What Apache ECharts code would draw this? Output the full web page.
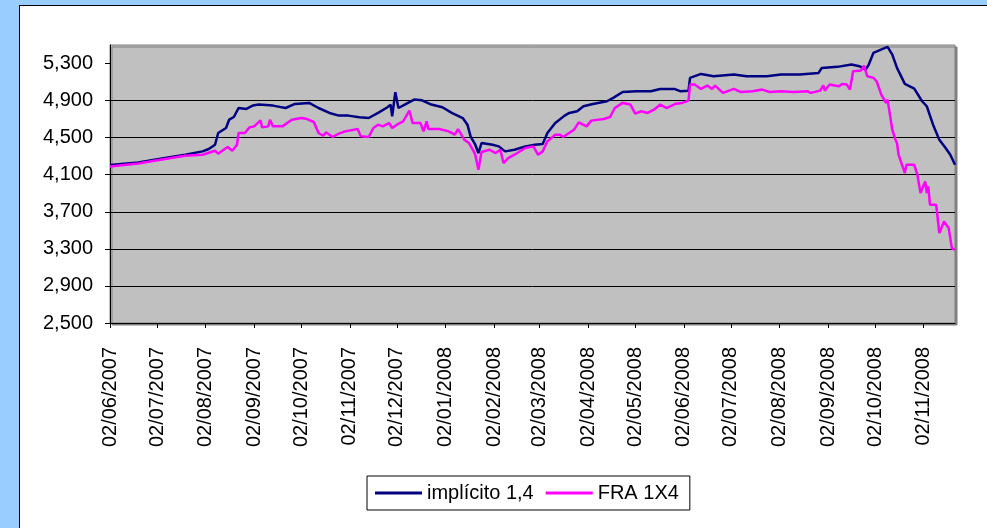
<!DOCTYPE html>
<html>
<head>
<meta charset="utf-8">
<script src="https://cdn.jsdelivr.net/npm/echarts@6/dist/echarts.min.js"></script>
<style>
  html, body { margin: 0; padding: 0; width: 987px; height: 528px; overflow: hidden; background: #99CCFF; }
  #frame { position: absolute; left: 19px; top: 5px; width: 2000px; height: 2000px; background: #fff; border: 1px solid #000; }
  #main { position: absolute; left: 0; top: 0; width: 987px; height: 528px; }
</style>
</head>
<body>
<div id="frame"></div>
<div id="main"></div>
<script>
var tickLabels = ['02/06/2007', '02/07/2007', '02/08/2007', '02/09/2007', '02/10/2007', '02/11/2007',
    '02/12/2007', '02/01/2008', '02/02/2008', '02/03/2008', '02/04/2008', '02/05/2008',
    '02/06/2008', '02/07/2008', '02/08/2008', '02/09/2008', '02/10/2008', '02/11/2008'];
var yTicks = [2500, 2900, 3300, 3700, 4100, 4500, 4900, 5300];

// implícito 1,4
var implDates = ['2007-06-02', '2007-06-20', '2007-07-07', '2007-07-20', '2007-07-31', '2007-08-04',
    '2007-08-08', '2007-08-10', '2007-08-15', '2007-08-17', '2007-08-20', '2007-08-23', '2007-08-28',
    '2007-09-01', '2007-09-05', '2007-09-14', '2007-09-22', '2007-09-28', '2007-10-07', '2007-10-13',
    '2007-10-20', '2007-10-26', '2007-11-01', '2007-11-08', '2007-11-14', '2007-11-20', '2007-11-26',
    '2007-11-28', '2007-11-29', '2007-12-01', '2007-12-03', '2007-12-07', '2007-12-13', '2007-12-18',
    '2007-12-24', '2007-12-31', '2008-01-06', '2008-01-13', '2008-01-16', '2008-01-18', '2008-01-21',
    '2008-01-23', '2008-01-25', '2008-02-01', '2008-02-05', '2008-02-09', '2008-02-15', '2008-02-22',
    '2008-02-28', '2008-03-04', '2008-03-07', '2008-03-12', '2008-03-18', '2008-03-21', '2008-03-26',
    '2008-03-30', '2008-04-05', '2008-04-14', '2008-04-18', '2008-04-24', '2008-05-03', '2008-05-12',
    '2008-05-18', '2008-05-27', '2008-05-31', '2008-06-05', '2008-06-06', '2008-06-13', '2008-06-21',
    '2008-07-04', '2008-07-12', '2008-07-25', '2008-08-03', '2008-08-15', '2008-08-27', '2008-08-29',
    '2008-09-08', '2008-09-17', '2008-09-22', '2008-09-26', '2008-09-28', '2008-10-01', '2008-10-05',
    '2008-10-10', '2008-10-13', '2008-10-16', '2008-10-21', '2008-10-27', '2008-11-01', '2008-11-04',
    '2008-11-08', '2008-11-12', '2008-11-16', '2008-11-19', '2008-11-22'];
var implValues = [4205, 4233, 4280, 4316, 4352, 4378,
    4424, 4550, 4604, 4694, 4723, 4820, 4810,
    4846, 4857, 4846, 4820, 4864, 4875, 4820,
    4767, 4738, 4738, 4720, 4712, 4767, 4828,
    4857, 4731, 4990, 4820, 4857, 4911, 4903,
    4857, 4828, 4767, 4712, 4640, 4514, 4424,
    4334, 4442, 4424, 4406, 4352, 4370, 4406,
    4424, 4431, 4550, 4658, 4738, 4767, 4785,
    4839, 4864, 4893, 4929, 4993, 5000, 5000,
    5026, 5026, 5000, 5007, 5145, 5188, 5163,
    5181, 5163, 5163, 5181, 5181, 5199, 5253,
    5264, 5289, 5271, 5235, 5289, 5416, 5444,
    5480, 5397, 5253, 5080, 5030, 4893, 4839,
    4640, 4478, 4388, 4316, 4208];

// FRA 1X4
var fraDates = ['2007-06-02', '2007-06-20', '2007-07-07', '2007-07-20', '2007-07-31', '2007-08-08',
    '2007-08-10', '2007-08-16', '2007-08-19', '2007-08-22', '2007-08-23', '2007-08-27', '2007-08-30',
    '2007-09-02', '2007-09-06', '2007-09-07', '2007-09-11', '2007-09-12', '2007-09-14', '2007-09-20',
    '2007-09-26', '2007-10-02', '2007-10-05', '2007-10-10', '2007-10-13', '2007-10-16', '2007-10-18',
    '2007-10-22', '2007-10-26', '2007-10-30', '2007-11-07', '2007-11-09', '2007-11-14', '2007-11-17',
    '2007-11-20', '2007-11-23', '2007-11-27', '2007-11-29', '2007-12-02', '2007-12-06', '2007-12-10',
    '2007-12-12', '2007-12-17', '2007-12-19', '2007-12-21', '2007-12-22', '2007-12-29', '2008-01-04',
    '2008-01-08', '2008-01-10', '2008-01-14', '2008-01-17', '2008-01-20', '2008-01-21', '2008-01-23',
    '2008-01-25', '2008-01-30', '2008-02-03', '2008-02-06', '2008-02-08', '2008-02-11', '2008-02-15',
    '2008-02-22', '2008-02-27', '2008-03-01', '2008-03-04', '2008-03-07', '2008-03-12', '2008-03-15',
    '2008-03-17', '2008-03-24', '2008-03-27', '2008-04-01', '2008-04-04', '2008-04-12', '2008-04-16',
    '2008-04-19', '2008-04-24', '2008-04-29', '2008-05-02', '2008-05-06', '2008-05-10', '2008-05-14',
    '2008-05-18', '2008-05-22', '2008-05-28', '2008-06-01', '2008-06-05', '2008-06-06', '2008-06-09',
    '2008-06-13', '2008-06-17', '2008-06-20', '2008-06-22', '2008-06-27', '2008-07-04', '2008-07-08',
    '2008-07-16', '2008-07-22', '2008-07-27', '2008-08-03', '2008-08-11', '2008-08-20', '2008-08-22',
    '2008-08-28', '2008-08-30', '2008-08-31', '2008-09-03', '2008-09-09', '2008-09-11', '2008-09-14',
    '2008-09-16', '2008-09-18', '2008-09-23', '2008-09-25', '2008-09-27', '2008-10-01', '2008-10-03',
    '2008-10-06', '2008-10-09', '2008-10-10', '2008-10-13', '2008-10-15', '2008-10-16', '2008-10-17',
    '2008-10-21', '2008-10-22', '2008-10-27', '2008-10-29', '2008-10-31', '2008-11-03', '2008-11-04',
    '2008-11-05', '2008-11-06', '2008-11-10', '2008-11-12', '2008-11-15', '2008-11-18', '2008-11-20',
    '2008-11-22'];
var fraValues = [4190, 4222, 4270, 4305, 4316, 4359,
    4327, 4399, 4359, 4424, 4550, 4550, 4611,
    4622, 4687, 4611, 4622, 4694, 4622, 4622,
    4694, 4712, 4705, 4669, 4550, 4521, 4557,
    4507, 4543, 4568, 4593, 4514, 4507, 4604,
    4640, 4622, 4658, 4604, 4640, 4676, 4792,
    4658, 4658, 4568, 4676, 4593, 4593, 4568,
    4532, 4593, 4478, 4442, 4352, 4316, 4154,
    4345, 4370, 4334, 4370, 4226, 4280, 4316,
    4388, 4406, 4316, 4352, 4460, 4532, 4532,
    4507, 4586, 4665, 4622, 4684, 4701, 4723,
    4820, 4875, 4857, 4759, 4785, 4767, 4802,
    4857, 4820, 4867, 4875, 4900, 5073, 5073,
    5026, 5062, 5026, 5062, 4983, 5026, 4993,
    5000, 5019, 4993, 5000, 4993, 5000, 4983,
    5008, 5065, 5008, 5073, 5055, 5080, 5073,
    5019, 5217, 5224, 5278, 5163, 5145, 5109,
    4965, 4875, 4911, 4586, 4478, 4442, 4316,
    4118, 4208, 4208, 4100, 3902, 4027, 3902,
    3974, 3776, 3776, 3470, 3596, 3524, 3308,
    3290];

function isoTime(s) {
    var p = s.split('-');
    return new Date(+p[0], +p[1] - 1, +p[2]).getTime();
}
function labelTime(s) {
    var p = s.split('/');
    return new Date(+p[2], +p[1] - 1, +p[0]).getTime();
}
function pad(n) { return n < 10 ? '0' + n : '' + n; }
function pairs(dates, values) {
    return dates.map(function (d, i) { return [isoTime(d), values[i]]; });
}

var tickTimes = tickLabels.map(labelTime);

var myChart = echarts.init(document.getElementById('main'));

var font = 'Liberation Sans, Arial, sans-serif';

var option = {
    backgroundColor: 'transparent',
    animation: false,
    textStyle: { fontFamily: font },
    grid: {
        left: 110, top: 45, right: 32, bottom: 205,
        show: true,
        backgroundColor: '#C0C0C0',
        borderColor: '#808080',
        borderWidth: 1,
        shadowColor: '#808080',
        shadowOffsetX: 2,
        shadowOffsetY: 2,
        shadowBlur: 0
    },
    legend: {
        left: 367, top: 476,
        padding: [7, 11, 7, 8],
        backgroundColor: '#fff',
        borderColor: '#000',
        borderWidth: 1,
        borderRadius: 0,
        icon: 'rect',
        itemWidth: 47,
        itemHeight: 3,
        itemGap: 12,
        textStyle: { fontFamily: font, fontSize: 20, color: '#000' },
        data: ['implícito 1,4', 'FRA 1X4']
    },
    // eixo de datas como valor (timestamps), rótulos no dia 2 de cada mês
    xAxis: {
        type: 'value',
        min: isoTime('2007-06-02'),
        max: isoTime('2008-11-22'),
        axisLine: { show: true, onZero: false, lineStyle: { color: '#000', width: 1 } },
        axisTick: { show: true, length: 5, lineStyle: { color: '#000' }, customValues: tickTimes },
        splitLine: { show: false },
        axisLabel: {
            rotate: 90,
            margin: 24,
            padding: [4, 0, 0, 0],
            fontFamily: font,
            fontSize: 20,
            color: '#000',
            customValues: tickTimes,
            formatter: function (v) {
                var d = new Date(v);
                return pad(d.getDate()) + '/' + pad(d.getMonth() + 1) + '/' + d.getFullYear();
            }
        }
    },
    yAxis: {
        type: 'value',
        min: 2500,
        max: 5500,
        interval: 400,
        axisLine: { show: true, onZero: false, lineStyle: { color: '#000', width: 1 } },
        axisTick: { show: true, length: 5, lineStyle: { color: '#000' }, customValues: yTicks },
        splitLine: { show: true, showMaxLine: false, lineStyle: { color: '#000', width: 1 } },
        axisLabel: {
            margin: 17,
            fontFamily: font,
            fontSize: 20,
            color: '#000',
            customValues: yTicks,
            formatter: function (v) {
                return String(v).replace(/\B(?=(\d{3})+(?!\d))/g, ',');
            }
        }
    },
    series: [{
        name: 'implícito 1,4',
        type: 'line',
        symbol: 'none',
        color: '#000080',
        lineStyle: { color: '#000080', width: 2.5 },
        data: pairs(implDates, implValues)
    }, {
        name: 'FRA 1X4',
        type: 'line',
        symbol: 'none',
        color: '#FF00FF',
        lineStyle: { color: '#FF00FF', width: 2.5 },
        data: pairs(fraDates, fraValues)
    }]
};

myChart.setOption(option);
</script>
</body>
</html>
